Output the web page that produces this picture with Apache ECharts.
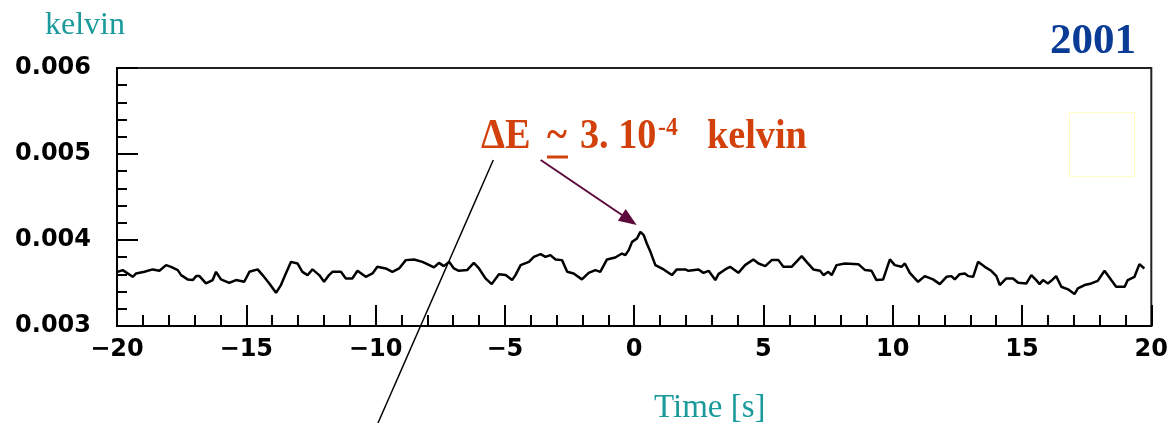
<!DOCTYPE html>
<html>
<head>
<meta charset="utf-8">
<script src="https://cdn.jsdelivr.net/npm/echarts@6/dist/echarts.min.js"></script>
<style>
html,body{margin:0;padding:0;background:#fff;}
#chart{width:1171px;height:423px;}
</style>
</head>
<body>
<div id="chart"></div>
<script>
// Time [s]
const times = [
-19.97,-19.78,-19.39,-19.26,-18.94,-18.62,-18.36,-18.10,-17.91,-17.65,
-17.52,-17.27,-17.07,-16.94,-16.81,-16.56,-16.30,-16.17,-15.98,-15.66,
-15.40,-15.08,-14.88,-14.56,-14.37,-14.11,-13.85,-13.66,-13.47,-13.27,
-13.02,-12.83,-12.63,-12.44,-12.18,-11.99,-11.80,-11.67,-11.34,-11.15,
-10.90,-10.70,-10.38,
-10.12,-9.93,-9.61,-9.35,-9.09,-8.83,-8.51,-8.19,-8.00,-7.74,
-7.55,-7.36,-7.16,-6.97,-6.78,-6.46,-6.20,-6.00,-5.75,-5.51,
-5.23,-4.97,-4.72,-4.59,-4.39,-4.07,-3.88,-3.62,-3.43,-3.24,
-3.04,-2.79,-2.59,-2.34,-2.02,-1.76,-1.50,-1.31,-1.05,-0.73,
-0.47,
-0.34,-0.21,-0.08,0.11,0.24,0.37,0.49,0.63,0.82,1.14,
1.46,1.65,1.98,2.10,2.49,2.68,2.88,3.14,3.26,3.52,
3.71,4.03,4.29,4.61,4.81,5.07,5.32,5.58,5.77,6.09,
6.48,6.67,6.93,7.19,7.32,7.51,7.64,7.83,8.15,8.67,
8.93,9.18,9.37,9.63,
9.89,10.08,10.34,10.47,10.66,10.98,11.24,11.56,11.82,12.08,
12.27,12.40,12.59,12.79,12.92,13.11,13.30,13.56,13.81,14.01,
14.14,14.39,14.65,14.85,15.17,15.36,15.55,15.68,15.81,16.00,
16.13,16.32,16.52,16.78,17.03,17.16,17.42,17.68,17.93,18.19,
18.45,18.64,18.97,19.09,19.35,19.54,19.73
];
// temperature [kelvin]
const temps = [
0.003630,0.003650,0.003572,0.003611,0.003630,0.003658,0.003642,0.003708,0.003688,0.003650,
0.003592,0.003542,0.003534,0.003580,0.003580,0.003495,0.003534,0.003630,0.003542,0.003502,
0.003534,0.003514,0.003630,0.003658,0.003592,0.003495,0.003386,0.003476,0.003611,0.003746,
0.003727,0.003630,0.003592,0.003658,0.003592,0.003514,0.003592,0.003630,0.003630,0.003553,
0.003553,0.003642,0.003572,
0.003611,0.003688,0.003669,0.003630,0.003669,0.003766,0.003774,0.003746,0.003719,0.003681,
0.003734,0.003696,0.003746,0.003669,0.003642,0.003650,0.003734,0.003669,0.003553,0.003487,
0.003603,0.003592,0.003534,0.003592,0.003708,0.003746,0.003804,0.003835,0.003804,0.003824,
0.003774,0.003766,0.003630,0.003611,0.003542,0.003618,0.003650,0.003630,0.003774,0.003797,
0.003843,
0.003824,0.003882,0.003978,0.004017,0.004094,0.004056,0.003959,0.003862,0.003708,0.003658,
0.003592,0.003658,0.003658,0.003642,0.003658,0.003618,0.003642,0.003534,0.003603,0.003658,
0.003688,0.003618,0.003708,0.003774,0.003727,0.003696,0.003766,0.003766,0.003688,0.003688,
0.003812,0.003746,0.003658,0.003642,0.003592,0.003630,0.003592,0.003708,0.003727,0.003719,
0.003650,0.003642,0.003534,0.003542,
0.003774,0.003708,0.003688,0.003727,0.003618,0.003514,0.003580,0.003542,0.003487,0.003572,
0.003580,0.003542,0.003603,0.003611,0.003580,0.003572,0.003746,0.003688,0.003642,0.003580,
0.003476,0.003553,0.003553,0.003502,0.003495,0.003592,0.003534,0.003487,0.003534,0.003495,
0.003525,0.003580,0.003456,0.003426,0.003371,0.003437,0.003476,0.003495,0.003525,0.003642,
0.003534,0.003456,0.003456,0.003534,0.003572,0.003719,0.003669
];
const xRange = [-20, 20];
const yRange = [0.003, 0.006];
const yUnitLabel = 'kelvin';
const xTitle = 'Time [s]';
const yearLabel = '2001';

const data = times.map((t, i) => [t, temps[i]]);

const chart = echarts.init(document.getElementById('chart'), null, {renderer: 'canvas'});
const tickFont = {fontFamily: '"DejaVu Sans"', fontWeight: 'bold', fontSize: 24, color: '#000'};
const serif = '"Liberation Serif", "Times New Roman", serif';
const red = '#d2400c';
const sx = 0.91;

chart.setOption({
  animation: false,
  backgroundColor: '#fff',
  grid: {left: 117, right: 19, top: 68, bottom: 97, show: true, borderColor: '#222', borderWidth: 2, backgroundColor: 'transparent'},
  xAxis: {
    type: 'value', min: xRange[0], max: xRange[1], interval: 5,
    axisLine: {show: true, onZero: false, lineStyle: {color: '#000', width: 2}},
    axisTick: {show: true, inside: true, length: 21, lineStyle: {color: '#000', width: 2}},
    minorTick: {show: true, splitNumber: 5, length: 11, lineStyle: {color: '#000', width: 2}},
    splitLine: {show: false},
    axisLabel: Object.assign({margin: 12, formatter: v => v < 0 ? '\u2212' + Math.abs(v) : String(v)}, tickFont)
  },
  yAxis: {
    type: 'value', min: yRange[0], max: yRange[1], interval: 0.001,
    axisLine: {show: true, onZero: false, lineStyle: {color: '#000', width: 2}},
    axisTick: {show: true, inside: true, length: 21, lineStyle: {color: '#000', width: 2}},
    minorTick: {show: true, splitNumber: 5, length: 10, lineStyle: {color: '#000', width: 2}},
    splitLine: {show: false},
    axisLabel: Object.assign({margin: 26, formatter: v => v.toFixed(3)}, tickFont)
  },
  series: [{
    type: 'line', data: data, symbol: 'none', smooth: false,
    lineStyle: {color: '#000', width: 2.5}
  }],
  graphic: [
    {type: 'text', left: 45, top: 10, style: {text: yUnitLabel, font: '32px ' + serif, fill: '#1a9a9a'}},
    {type: 'text', right: 35, top: 20, style: {text: yearLabel, font: 'bold 43px ' + serif, fill: '#0a3c96'}},
    {type: 'text', left: 654, top: 392, style: {text: xTitle, font: '33px ' + serif, fill: '#1a9a9a'}},
    // annotation
    {type: 'text', x: 481, y: 116, scaleX: sx, style: {text: '\u0394E', font: 'bold 42px ' + serif, fill: red}},
    {type: 'text', x: 547, y: 116, scaleX: sx, style: {text: '~', font: 'bold 42px ' + serif, fill: red}},
    {type: 'rect', shape: {x: 547, y: 155.5, width: 21, height: 3}, style: {fill: red}},
    {type: 'text', x: 580, y: 116, scaleX: sx, style: {text: '3. 10', font: 'bold 42px ' + serif, fill: red}},
    {type: 'text', x: 658, y: 115, scaleX: sx, style: {text: '-4', font: 'bold 26px ' + serif, fill: red}},
    {type: 'text', x: 707, y: 116, scaleX: sx, style: {text: 'kelvin', font: 'bold 42px ' + serif, fill: red}},
    {type: 'line', shape: {x1: 493.3, y1: 160, x2: 378, y2: 423}, style: {stroke: '#000', lineWidth: 1.5}},
    {type: 'line', shape: {x1: 540.7, y1: 160, x2: 622, y2: 215}, style: {stroke: '#5c0a3c', lineWidth: 2}},
    {type: 'polygon', shape: {points: [[636.7, 225], [617.9, 220.7], [625.7, 209.1]]}, style: {fill: '#5c0a3c'}},
    {type: 'rect', shape: {x: 1069.5, y: 112.5, width: 65, height: 64}, style: {fill: 'none', stroke: '#ffffc0', lineWidth: 1}}
  ]
});
</script>
</body>
</html>
